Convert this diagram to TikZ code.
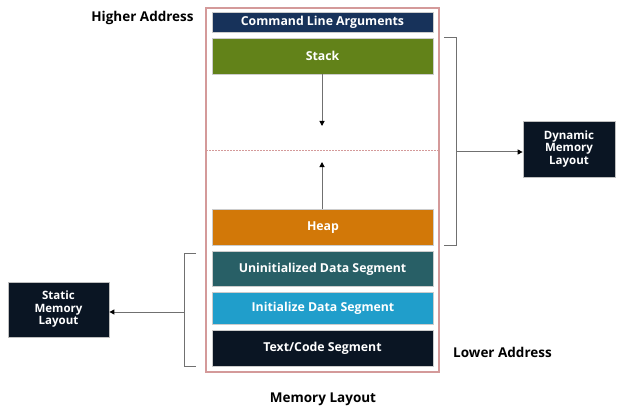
\documentclass[tikz,border=0pt]{standalone}
\usepackage{fontspec}
\setmainfont{Open Sans}
\usetikzlibrary{arrows.meta}
\definecolor{cNavy}{HTML}{17325A}
\definecolor{cOlive}{HTML}{628219}
\definecolor{cOrange}{HTML}{D27808}
\definecolor{cTeal}{HTML}{285F66}
\definecolor{cBlue}{HTML}{209ECB}
\definecolor{cDark}{HTML}{0A1523}
\definecolor{cFrame}{HTML}{D49A9A}
\definecolor{cLine}{HTML}{707070}
\begin{document}
\begin{tikzpicture}[x=1pt,y=-1pt,
  seg/.style={draw=gray!40,line width=0.8pt,text=white,font=\bfseries\fontsize{12.3}{14}\selectfont,inner sep=0pt},
  side/.style={draw=gray!50,line width=0.8pt,fill=cDark,text=white,font=\bfseries\fontsize{11.5}{12.5}\selectfont,align=center,inner sep=0pt},
  lbl/.style={font=\bfseries\fontsize{13.5}{15}\selectfont,inner sep=0pt},
  conn/.style={draw=cLine,line width=1pt,-{Triangle[length=5pt,width=5pt,color=black]}},
  brk/.style={draw=cLine,line width=1pt}]
\useasboundingbox (0,0) rectangle (620,406);
% outer frame
\draw[cFrame,line width=1.2pt] (206,8) rectangle (439,372);
\draw[cFrame,line width=0.8pt,dashed,dash pattern=on 2pt off 1pt] (206,150) -- (439,150);
% segments
\node[seg,fill=cNavy,minimum width=221pt,minimum height=20pt] (cla) at (322.5,22.5) {Command Line Arguments};
\node[seg,fill=cOlive,minimum width=221pt,minimum height=36pt] (stack) at (322.5,56) {Stack};
\node[seg,fill=cOrange,minimum width=221pt,minimum height=36pt] (heap) at (323,227.5) {Heap};
\node[seg,fill=cTeal,minimum width=221pt,minimum height=35pt] (uds) at (322.5,269) {Uninitialized Data Segment};
\node[seg,fill=cBlue,minimum width=221pt,minimum height=32pt] (ids) at (323,308) {Initialize Data Segment};
\node[seg,fill=cDark,minimum width=221pt,minimum height=36pt] (tcs) at (322.5,348) {Text/Code Segment};
% growth arrows
\coordinate (sdown) at (322,126);
\coordinate (hup) at (322,162);
\draw[conn] (stack.south -| sdown) -- (sdown);
\draw[conn] (heap.north -| hup) -- (hup);
% side boxes
\node[side,minimum width=92pt,minimum height=56pt] (dyn) at (569,149) {Dynamic\\Memory\\Layout};
\node[side,minimum width=101pt,minimum height=55pt] (stat) at (58.5,309.5) {Static\\Memory\\Layout};
% brackets
\coordinate (rt) at (456,37.5);
\coordinate (rb) at (456,245.5);
\draw[brk] (444,37.5) -- (rt) -- (rb) -- (444,245.5);
\coordinate (rm) at (456,152);
\draw[conn] (rm) -- (dyn.west |- rm);
\coordinate (lt) at (184,253);
\coordinate (lb) at (184,366);
\draw[brk] (196,253) -- (lt) -- (lb) -- (196,366);
\coordinate (lm) at (184,312);
\draw[conn] (lm) -- (stat.east |- lm);
% labels
\node[lbl] (hi) at (142.5,18) {Higher Address};
\node[lbl] (lo) at (502.5,352) {Lower Address};
\node[lbl] (ml) at (323,399) {Memory Layout};
\end{tikzpicture}
\end{document}
